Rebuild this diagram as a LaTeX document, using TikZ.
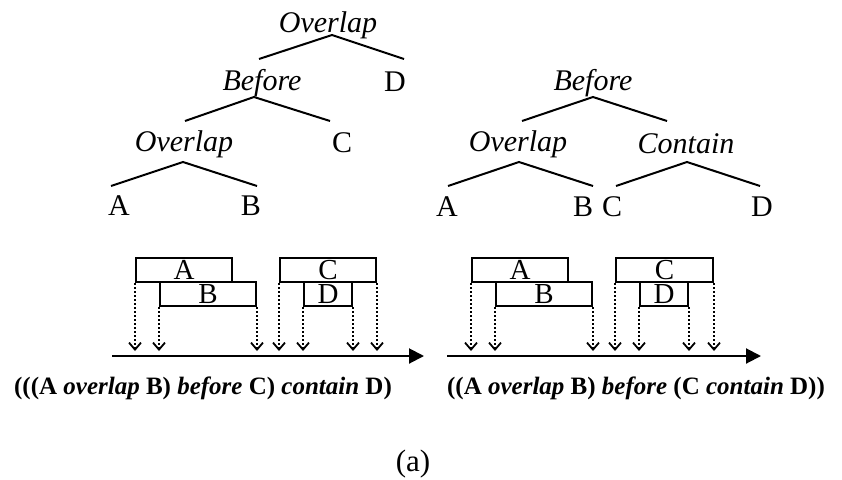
\documentclass[tikz,border=0pt]{standalone}
\usepackage{fontspec}
\setmainfont{Liberation Serif}
\usetikzlibrary{arrows.meta}
\begin{document}
\begin{tikzpicture}[x=1pt,y=-1pt,
  lbl/.style={font=\fontsize{30}{36}\selectfont, inner sep=0pt},
  op/.style={lbl, font=\fontsize{30}{36}\selectfont\itshape},
  branch/.style={line width=2pt},
  interval/.style={draw, line width=2pt, minimum height=24pt, inner sep=0pt,
                   font=\fontsize{29}{30}\selectfont},
  axis/.style={line width=2pt, -{Triangle[length=15pt,width=15pt]}},
  drop/.style={line width=2.2pt, dash pattern=on 2pt off 2pt,
               -{Straight Barb[length=7pt,width=12pt,line width=1.8pt]}},
  expr/.style={font=\fontsize{25}{30}\selectfont\bfseries, inner sep=0pt}]
\useasboundingbox (0,0) rectangle (842,479);

% ---------- left tree: ((A overlap B) before C) overlap D ----------
\node[op]  (l1)  at (328,25)  {Overlap};
\node[op]  (l2)  at (262,83)  {Before};
\node[lbl] (lD)  at (395,82)  {D};
\node[op]  (l3)  at (184,144) {Overlap};
\node[lbl] (lC)  at (342,143) {C};
\node[lbl] (lA)  at (119,206) {A};
\node[lbl] (lB)  at (251,206) {B};

\coordinate (l1t) at (332,35);  \coordinate (l1a) at (259,59);  \coordinate (l1b) at (404,59);
\coordinate (l2t) at (254,97);  \coordinate (l2a) at (185,121); \coordinate (l2b) at (330,121);
\coordinate (l3t) at (183,162); \coordinate (l3a) at (111,186); \coordinate (l3b) at (257,186);
\draw[branch] (l1a) -- (l1t) -- (l1b);
\draw[branch] (l2a) -- (l2t) -- (l2b);
\draw[branch] (l3a) -- (l3t) -- (l3b);

% ---------- right tree: (A overlap B) before (C contain D) ----------
\node[op]  (r1)  at (593,83)  {Before};
\node[op]  (r2)  at (518,144) {Overlap};
\node[op]  (r3)  at (686,144) {Contain};
\node[lbl] (rA)  at (447,207) {A};
\node[lbl] (rB)  at (583,207) {B};
\node[lbl] (rC)  at (612,207) {C};
\node[lbl] (rD)  at (762,207) {D};

\coordinate (r1t) at (593,97);  \coordinate (r1a) at (522,121); \coordinate (r1b) at (667,121);
\coordinate (r2t) at (519,162); \coordinate (r2a) at (448,186); \coordinate (r2b) at (593,186);
\coordinate (r3t) at (687,162); \coordinate (r3a) at (616,186); \coordinate (r3b) at (760,186);
\draw[branch] (r1a) -- (r1t) -- (r1b);
\draw[branch] (r2a) -- (r2t) -- (r2b);
\draw[branch] (r3a) -- (r3t) -- (r3b);

% ---------- left time line ----------
\node[interval, minimum width=96pt] (ia) at (184,270) {A};
\node[interval, minimum width=96pt] (ib) at (208,294) {B};
\node[interval, minimum width=96pt] (ic) at (328,270) {C};
\node[interval, minimum width=48pt] (id) at (328,294) {D};
\coordinate (ls) at (112,356);
\coordinate (le) at (424,356);
\coordinate (lt) at (0,351);
\draw[axis] (ls) -- (le);
\foreach \p in {ia.south west, ib.south west, ib.south east, ic.south west,
                id.south west, id.south east, ic.south east}
  \draw[drop] (\p) -- (\p |- lt);

% ---------- right time line ----------
\node[interval, minimum width=96pt] (ja) at (520,270) {A};
\node[interval, minimum width=96pt] (jb) at (544,294) {B};
\node[interval, minimum width=97pt] (jc) at (664.5,270) {C};
\node[interval, minimum width=48pt] (jd) at (664,294) {D};
\coordinate (rs) at (447,356);
\coordinate (re) at (761,356);
\coordinate (rt) at (0,351);
\draw[axis] (rs) -- (re);
\foreach \p in {ja.south west, jb.south west, jb.south east, jc.south west,
                jd.south west, jd.south east, jc.south east}
  \draw[drop] (\p) -- (\p |- rt);

% ---------- expressions and caption ----------
\node[expr] (el) at (203,388) {(((A \textit{overlap} B) \textit{before} C) \textit{contain} D)};
\node[expr] (er) at (636,388) {((A \textit{overlap} B) \textit{before} (C \textit{contain} D))};
\node[lbl, font=\fontsize{31}{36}\selectfont] (cap) at (413,464) {(a)};
\end{tikzpicture}
\end{document}
